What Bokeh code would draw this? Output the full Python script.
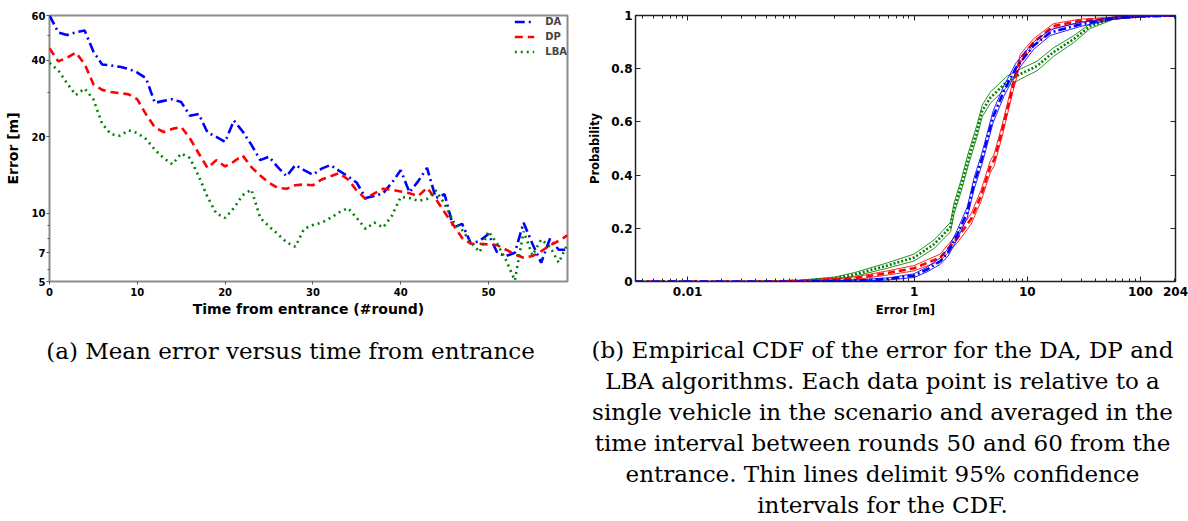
from bokeh.plotting import figure
from bokeh.layouts import column, row
from bokeh.models import (Range1d, FixedTicker, CustomJSTickFormatter, LogAxis,
                          LinearAxis, ColumnDataSource)
from bokeh.core.properties import value
from bokeh.embed import file_html
from bokeh.resources import INLINE

# ---------------------------------------------------------------- data
ROUNDS = list(range(60))

DA_ERR = [60.0, 51.5, 50.3, 51.5, 52.4, 43.3, 38.5, 38.2, 37.7, 37.0,
          35.8, 34.0, 27.2, 27.7, 28.1, 27.4, 24.2, 24.6, 20.8, 20.0,
          19.1, 23.2, 21.0, 18.6, 16.2, 16.7, 15.2, 14.0, 15.5, 14.8,
          14.2, 15.0, 15.5, 14.7, 14.0, 13.2, 11.5, 11.7, 12.0, 13.2,
          14.8, 12.1, 13.4, 15.1, 11.5, 11.9, 8.8, 9.1, 7.6, 7.8,
          8.3, 7.0, 6.8, 7.0, 9.2, 7.6, 6.4, 7.95, 7.2, 7.2]

DP_ERR = [44.6, 39.6, 41.0, 42.9, 38.7, 32.2, 30.6, 30.0, 29.7, 29.4,
          28.1, 24.5, 21.8, 20.9, 21.5, 21.9, 19.7, 17.2, 15.1, 16.2,
          15.3, 16.0, 16.9, 15.2, 14.1, 13.2, 12.6, 12.5, 12.9, 13.0,
          12.9, 13.6, 14.0, 14.4, 13.6, 12.3, 11.4, 12.0, 12.5, 12.4,
          12.2, 12.0, 11.7, 12.6, 11.4, 10.1, 9.0, 8.0, 7.6, 7.6,
          7.55, 7.5, 7.2, 6.9, 6.7, 6.8, 7.1, 7.5, 7.8, 8.2]

LBA_ERR = [39.1, 36.5, 32.5, 29.2, 31.0, 28.1, 22.5, 20.5, 20.2, 21.2,
           20.7, 19.6, 17.8, 16.5, 15.6, 17.2, 16.5, 14.0, 11.6, 10.0,
           9.6, 10.5, 11.8, 12.4, 9.6, 8.9, 8.3, 7.7, 7.4, 8.7,
           9.0, 9.2, 9.6, 10.1, 10.5, 9.6, 8.7, 9.2, 8.8, 9.8,
           11.6, 11.5, 11.2, 11.4, 12.3, 10.9, 9.3, 8.6, 7.7, 7.05,
           8.5, 7.6, 6.55, 5.45, 8.5, 6.85, 7.9, 7.4, 6.4, 7.6]

ERR_Y_TICKS = [5.4, 7, 10, 20, 40, 60]
ERR_Y_LABELS = ["5", "7", "10", "20", "40", "60"]
ERR_Y_MINOR = [6, 8, 9, 30, 50]
ROUND_TICKS = [0, 10, 20, 30, 40, 50]

# empirical CDFs: error [m], probability, half width of the 95% band
DA_CDF_ERR = [0.00346, 0.1, 0.3, 0.6, 1.0, 1.3, 1.7, 2.0, 2.4, 2.95, 3.4,
              4.0, 5.0, 6.2, 8.0, 11.4, 16.0, 29.0, 58.0, 100.0, 204.0]
DA_CDF_P = [0.0, 0.0, 0.003, 0.01, 0.022, 0.045, 0.076, 0.11, 0.175, 0.26, 0.37,
            0.465, 0.62, 0.715, 0.805, 0.887, 0.936, 0.966, 0.99, 0.997, 1.0]
DA_CDF_CI = [0.0, 0.0, 0.002, 0.004, 0.007, 0.009, 0.012, 0.014, 0.017, 0.02, 0.022,
             0.022, 0.022, 0.02, 0.018, 0.014, 0.011, 0.008, 0.004, 0.002, 0.0]

DP_CDF_ERR = [0.00346, 0.05, 0.1, 0.3, 0.6, 1.0, 1.7, 2.4, 3.2, 3.9, 4.7,
              5.1, 6.0, 7.4, 8.7, 11.4, 17.0, 29.0, 58.0, 100.0, 204.0]
DP_CDF_P = [0.0, 0.0, 0.002, 0.012, 0.033, 0.05, 0.09, 0.162, 0.236, 0.322, 0.43,
            0.457, 0.567, 0.727, 0.838, 0.899, 0.96, 0.98, 0.99, 0.997, 1.0]
DP_CDF_CI = [0.0, 0.0, 0.002, 0.005, 0.008, 0.01, 0.013, 0.017, 0.02, 0.021, 0.022,
             0.022, 0.022, 0.02, 0.017, 0.014, 0.009, 0.006, 0.004, 0.002, 0.0]

LBA_CDF_ERR = [0.00346, 0.05, 0.1, 0.2, 0.3, 0.58, 1.0, 1.5, 1.8, 2.1, 2.25, 2.6,
               3.0, 3.6, 4.0, 4.7, 6.6, 8.7, 12.2, 17.0, 25.7, 36.0, 58.0, 100.0, 204.0]
LBA_CDF_P = [0.0, 0.0, 0.003, 0.012, 0.027, 0.06, 0.09, 0.14, 0.175, 0.205, 0.273, 0.359,
             0.457, 0.567, 0.641, 0.69, 0.751, 0.78, 0.81, 0.862, 0.911, 0.96, 0.99, 0.997, 1.0]
LBA_CDF_CI = [0.0, 0.0, 0.002, 0.005, 0.007, 0.01, 0.013, 0.016, 0.017, 0.018, 0.02, 0.022,
              0.023, 0.023, 0.022, 0.021, 0.02, 0.019, 0.018, 0.016, 0.013, 0.009, 0.004, 0.002, 0.0]

CDF_X_TICKS = [0.01, 1, 10, 100, 204]
CDF_X_LABELS = ["0.01", "1", "10", "100", "204"]
CDF_Y_TICKS = [0, 0.2, 0.4, 0.6, 0.8, 1]
CDF_Y_LABELS = ["0", "0.2", "0.4", "0.6", "0.8", "1"]

CAPTION_A = "(a) Mean error versus time from entrance"
CAPTION_B = [
    "(b) Empirical CDF of the error for the DA, DP and",
    "LBA algorithms. Each data point is relative to a",
    "single vehicle in the scenario and averaged in the",
    "time interval between rounds 50 and 60 from the",
    "entrance. Thin lines delimit 95% confidence",
    "intervals for the CDF.",
]

# ---------------------------------------------------------------- styles
BLUE, RED, GREEN = "#0000ff", "#ff0000", "#008000"
SANS = "DejaVu Sans"
SERIF = "DejaVu Serif"

LABEL_JS = """
let best = 0, d = Infinity;
for (let i = 0; i < tvals.length; i++) {
    const e = Math.abs(tvals[i] - tick);
    if (e < d) { d = e; best = i; }
}
return tlabels[best];
"""


def label_formatter(tick_values, tick_labels):
    return CustomJSTickFormatter(args=dict(tvals=tick_values, tlabels=tick_labels),
                                 code=LABEL_JS)


# ---------------------------------------------------------------- (a) mean error
p1 = figure(width=580, height=330, x_range=Range1d(0, 59), y_range=Range1d(5.4, 60),
            y_axis_type="log", output_backend="svg", toolbar_location=None,
            min_border_left=49, min_border_right=13, min_border_top=15, min_border_bottom=44)
p1.grid.visible = False
p1.outline_line_color = "#8c8c8c"
p1.outline_line_width = 2
p1.background_fill_color = "white"
p1.border_fill_color = "white"

p1.line(ROUNDS, DA_ERR, color=BLUE, line_width=2.6, line_dash="10 4 2 4", legend_label="DA")
p1.line(ROUNDS, DP_ERR, color=RED, line_width=2.6, line_dash="8 5", legend_label="DP")
p1.line(ROUNDS, LBA_ERR, color=GREEN, line_width=2.6, line_dash="2 4", legend_label="LBA")

p1_x, p1_y = p1.below[0], p1.left[0]
p1_x.ticker = FixedTicker(ticks=ROUND_TICKS, minor_ticks=[])
p1_y.ticker = FixedTicker(ticks=ERR_Y_TICKS, minor_ticks=ERR_Y_MINOR)
p1_y.formatter = label_formatter(ERR_Y_TICKS, ERR_Y_LABELS)
for ax in (p1_x, p1_y):
    ax.axis_line_color = None
    ax.major_tick_in = 0
    ax.major_tick_out = 3
    ax.minor_tick_in = 0
    ax.minor_tick_out = 2
    ax.major_tick_line_color = "#555555"
    ax.minor_tick_line_color = "#555555"
    ax.major_label_text_font = SANS
    ax.major_label_text_font_style = "bold"
    ax.major_label_text_font_size = "10px"
    ax.major_label_text_color = "black"
    ax.axis_label_text_font = SANS
    ax.axis_label_text_font_style = "bold"
    ax.axis_label_text_font_size = "14px"
    ax.axis_label_text_color = "black"
p1_x.major_label_standoff = 3
p1_x.axis_label_standoff = 2
p1_y.major_label_standoff = 1
p1_y.axis_label_standoff = 8
p1_x.axis_label = "Time from entrance (#round)"
p1_y.axis_label = "Error [m]"

lg = p1.legend[0]
lg.location = "top_right"
lg.margin = 0
lg.padding = 8
lg.spacing = 2
lg.border_line_color = None
lg.background_fill_alpha = 0
lg.glyph_width = 20
lg.glyph_height = 13
lg.label_height = 13
lg.label_standoff = 11
lg.label_text_font = SANS
lg.label_text_font_style = "bold"
lg.label_text_font_size = "10px"

# ---------------------------------------------------------------- (b) empirical CDF
p2 = figure(width=608, height=330, x_range=Range1d(0.00346, 204), y_range=Range1d(0, 1),
            x_axis_type="log", output_backend="svg", toolbar_location=None,
            min_border_left=55, min_border_right=13, min_border_top=9, min_border_bottom=49)
p2.grid.visible = False
p2.outline_line_color = "#222222"
p2.outline_line_width = 1.5
p2.background_fill_color = "white"
p2.border_fill_color = "white"

series = [
    (LBA_CDF_ERR, LBA_CDF_P, LBA_CDF_CI, GREEN, "2 2"),
    (DP_CDF_ERR, DP_CDF_P, DP_CDF_CI, RED, "7 4"),
    (DA_CDF_ERR, DA_CDF_P, DA_CDF_CI, BLUE, "8 3 2 3"),
]
for err, prob, half, color, dash in series:
    lo = [max(0.0, p - h) for p, h in zip(prob, half)]
    hi = [min(1.0, p + h) for p, h in zip(prob, half)]
    p2.line(err, lo, color=color, line_width=1, line_alpha=0.85)
    p2.line(err, hi, color=color, line_width=1, line_alpha=0.85)
    p2.line(err, prob, color=color, line_width=2.6, line_dash=dash)

decade_minor = [m * 10.0 ** k for k in range(-3, 3) for m in range(2, 10)]
decade_minor = [t for t in decade_minor if 0.00346 < t < 204 and t not in CDF_X_TICKS]
x_ticker = FixedTicker(ticks=CDF_X_TICKS, minor_ticks=decade_minor)
y_ticker = FixedTicker(ticks=CDF_Y_TICKS, minor_ticks=[])

p2_x, p2_y = p2.below[0], p2.left[0]
p2_x.ticker = x_ticker
p2_x.formatter = label_formatter(CDF_X_TICKS, CDF_X_LABELS)
p2_y.ticker = y_ticker
p2_y.formatter = label_formatter(CDF_Y_TICKS, CDF_Y_LABELS)

# mirrored tick marks on the top and right edges, without labels
blank = CustomJSTickFormatter(code="return ''")
top_axis = LogAxis(ticker=x_ticker, formatter=blank, major_label_standoff=0)
right_axis = LinearAxis(ticker=y_ticker, formatter=blank, major_label_standoff=0)
p2.add_layout(top_axis, "above")
p2.add_layout(right_axis, "right")

for ax in (p2_x, p2_y, top_axis, right_axis):
    ax.axis_line_color = None
    ax.major_tick_in = 5
    ax.major_tick_out = 0
    ax.minor_tick_in = 3
    ax.minor_tick_out = 0
    ax.major_tick_line_color = "#222222"
    ax.minor_tick_line_color = "#222222"
    ax.major_label_text_font = SANS
    ax.major_label_text_font_style = "bold"
    ax.major_label_text_font_size = "12px"
    ax.major_label_text_color = "black"
    ax.axis_label_text_font = SANS
    ax.axis_label_text_font_style = "bold"
    ax.axis_label_text_font_size = "11.5px"
    ax.axis_label_text_color = "black"
p2_x.major_label_standoff = 5
p2_x.axis_label_standoff = 4
p2_y.major_label_standoff = 3
p2_y.axis_label_standoff = 6
p2_x.axis_label = "Error [m]"
p2_y.axis_label = "Probability"

# ---------------------------------------------------------------- captions
cap = figure(width=1188, height=191, x_range=Range1d(0, 1188), y_range=Range1d(191, 0),
             x_axis_location=None, y_axis_location=None, output_backend="svg",
             toolbar_location=None, min_border=0)
cap.grid.visible = False
cap.outline_line_color = None

cap_src = ColumnDataSource(dict(
    x=[290] + [882] * len(CAPTION_B),
    y=[20] + [19 + 31 * i for i in range(len(CAPTION_B))],
    t=[CAPTION_A] + CAPTION_B,
))
cap.text(x="x", y="y", text="t", source=cap_src, text_font=value(SERIF),
         text_font_size=value("23px"), text_align="center", text_baseline="middle",
         text_color="black")

layout = column(row(p1, p2), cap)
open("out.html", "w").write(file_html(layout, INLINE))
